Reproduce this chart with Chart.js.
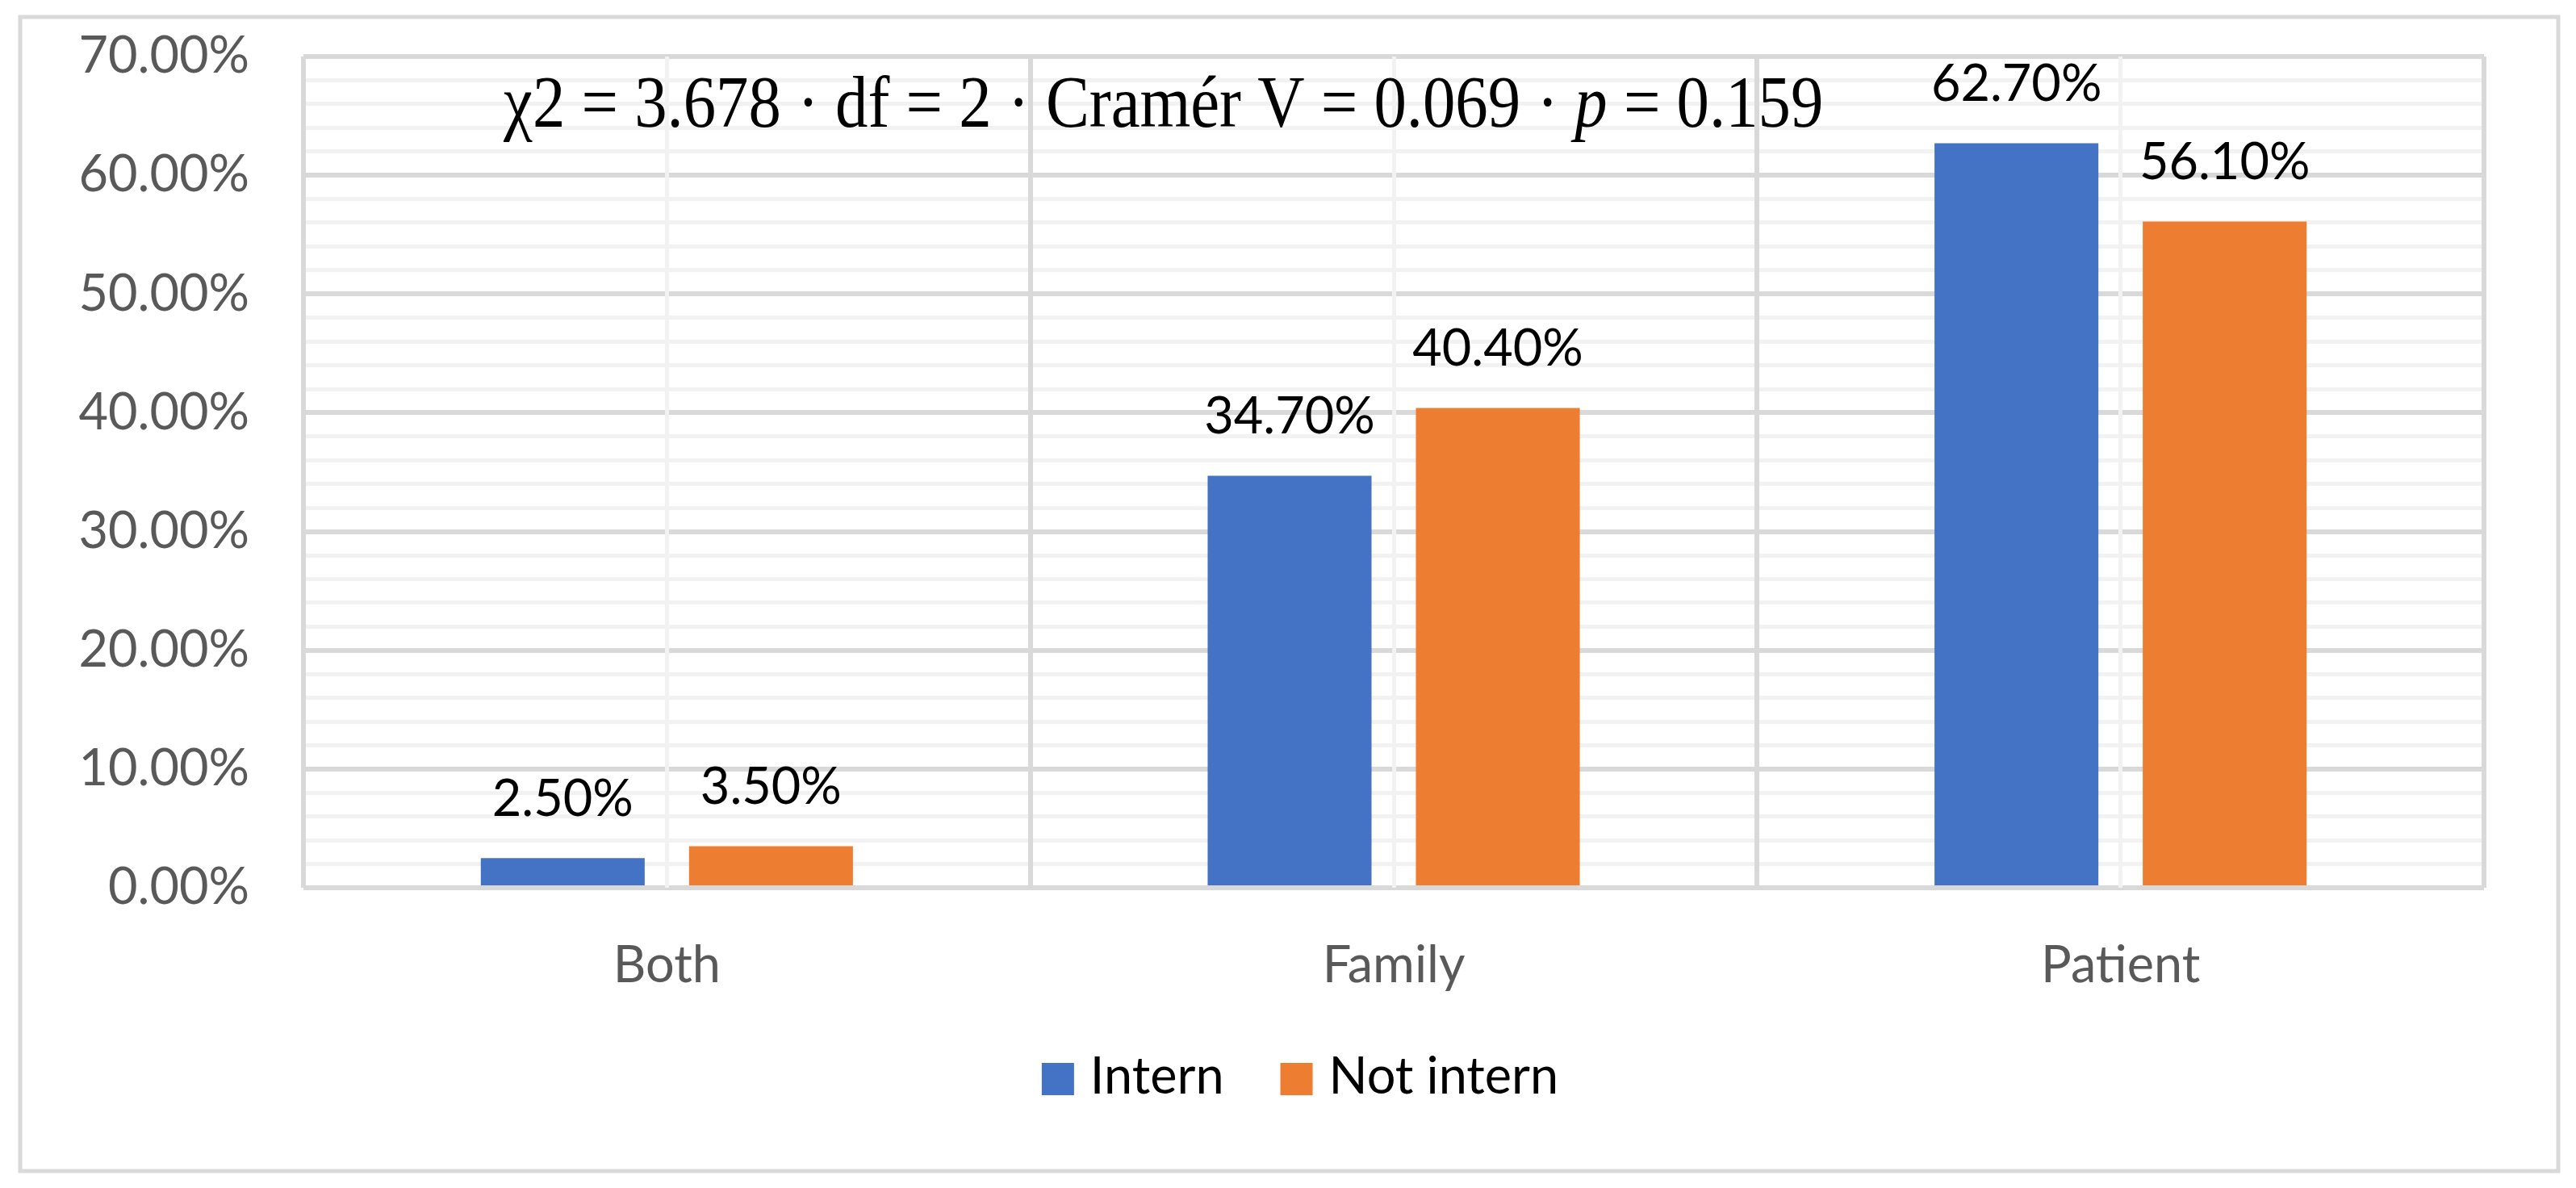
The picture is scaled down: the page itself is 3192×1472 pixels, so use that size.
<!DOCTYPE html>
<html><head><meta charset="utf-8">
<script src="https://cdn.jsdelivr.net/npm/chart.js@4.4.0/dist/chart.umd.min.js"></script>
<style>html,body{margin:0;padding:0;background:#fff;} canvas{display:block;}</style>
</head><body>
<canvas id="c" width="3192" height="1472"></canvas>
<script>
const categories = ['Both', 'Family', 'Patient'];
const seriesNames = ['Intern', 'Not intern'];
const internValues = [2.5, 34.7, 62.7];
const notInternValues = [3.5, 40.4, 56.1];
const yMin = 0, yMax = 70, yMinorStep = 2, yMajorStep = 10;
const annotationParts = [
  {text: 'χ2 = 3.678 · df = 2 · Cramér V = 0.069 · ', italic: false},
  {text: 'p', italic: true},
  {text: ' = 0.159', italic: false}
];
const seriesColors = ['#4472C4', '#ED7D31'];

const FONT = 'Lato';
const FS = 63;
const annot = {leftFrac: 0.0918, rightFrac: 0.697, baselineValue: 64.1, size: 92};

const outerBorder = {
  id: 'outerBorder',
  beforeDraw(chart) {
    const c = chart.ctx; c.save();
    c.fillStyle = '#fff'; c.fillRect(0, 0, chart.width, chart.height);
    c.strokeStyle = '#d9d9d9'; c.lineWidth = 5;
    c.strokeRect(25, 21, chart.width - 25 - 22, chart.height - 21 - 21);
    c.restore();
  }
};

const dataLabels = {
  id: 'dataLabels',
  afterDatasetsDraw(chart) {
    const c = chart.ctx; c.save();
    c.font = FS + 'px ' + FONT; c.fillStyle = '#000';
    c.textAlign = 'center'; c.textBaseline = 'middle';
    chart.data.datasets.forEach((ds, i) => {
      chart.getDatasetMeta(i).data.forEach((bar, j) => {
        c.fillText(ds.data[j].toFixed(2) + '%', bar.x, bar.y - 73);
      });
    });
    c.restore();
  }
};

const extras = {
  id: 'extras',
  afterDraw(chart) {
    const c = chart.ctx; const area = chart.chartArea; const yS = chart.scales.y;
    c.save();
    const w = area.right - area.left;
    const left = area.left + annot.leftFrac * w;
    const right = area.left + annot.rightFrac * w;
    const base = yS.getPixelForValue(annot.baselineValue);
    let total = 0;
    annotationParts.forEach(p => {
      c.font = (p.italic ? 'italic ' : '') + annot.size + 'px "Liberation Serif"';
      p.w = c.measureText(p.text).width; total += p.w;
    });
    const sx = (right - left) / total;
    c.translate(left, base); c.scale(sx, 1);
    c.fillStyle = '#000'; c.textBaseline = 'alphabetic'; c.textAlign = 'left';
    let x = 0;
    annotationParts.forEach(p => {
      c.font = (p.italic ? 'italic ' : '') + annot.size + 'px "Liberation Serif"';
      c.fillText(p.text, x, 0); x += p.w;
    });
    c.restore();
    c.save();
    c.font = FS + 'px ' + FONT; c.textBaseline = 'middle'; c.textAlign = 'left';
    const box = 40, gap = 20, itemGap = 70;
    const items = chart.data.datasets.map(ds => ({label: ds.label, color: ds.backgroundColor, tw: c.measureText(ds.label).width}));
    let tot = 0; items.forEach((it, k) => { tot += box + gap + it.tw + (k ? itemGap : 0); });
    const cy = 1337;
    let lx = chart.width * 0.5047 - tot / 2;
    items.forEach((it, k) => {
      if (k) lx += itemGap;
      c.fillStyle = it.color; c.fillRect(lx, cy - box / 2, box, box);
      lx += box + gap;
      c.fillStyle = '#000'; c.fillText(it.label, lx, cy - 2);
      lx += it.tw;
    });
    c.restore();
  }
};

new Chart(document.getElementById('c'), {
  type: 'bar',
  data: {
    labels: categories,
    datasets: [
      {label: seriesNames[0], data: internValues, backgroundColor: seriesColors[0], categoryPercentage: 0.573, barPercentage: 0.787, borderWidth: 0},
      {label: seriesNames[1], data: notInternValues, backgroundColor: seriesColors[1], categoryPercentage: 0.573, barPercentage: 0.787, borderWidth: 0}
    ]
  },
  options: {
    responsive: false, animation: false, devicePixelRatio: 1,
    layout: {padding: {top: 70, right: 114, bottom: 222, left: 0}},
    plugins: {legend: {display: false}, tooltip: {enabled: false}},
    scales: {
      y: {
        min: yMin, max: yMax,
        afterFit: s => { s.width = 376; s.paddingTop = 0; s.paddingBottom = 0; },
        ticks: {stepSize: yMinorStep, autoSkip: false, padding: 67, color: '#595959', font: {family: FONT, size: FS},
          callback: v => (Math.round(v) % yMajorStep === 0 ? Number(v).toFixed(2) + '%' : '')},
        grid: {drawTicks: false, z: -2,
          color: ctx => (ctx.tick && Math.round(ctx.tick.value) % yMajorStep === 0 ? '#d9d9d9' : '#f2f2f2'),
          lineWidth: ctx => (ctx.tick && Math.round(ctx.tick.value) % yMajorStep === 0 ? 6 : 5)},
        border: {display: false}
      },
      x: {
        offset: true,
        afterFit: s => { s.height = 150; s.paddingLeft = 0; s.paddingRight = 0; },
        ticks: {padding: 59, color: '#595959', font: {family: FONT, size: FS}},
        grid: {offset: true, drawTicks: false, color: '#d9d9d9', lineWidth: 6, z: -1},
        border: {display: false}
      },
      x2: {
        type: 'category', position: 'bottom', offset: true,
        afterFit: s => { s.height = 0; s.paddingLeft = 0; s.paddingRight = 0; },
        ticks: {display: false},
        grid: {offset: false, drawTicks: false, color: '#f2f2f2', lineWidth: 5, z: -1},
        border: {display: false}
      }
    }
  },
  plugins: [outerBorder, dataLabels, extras]
});
</script>
</body></html>
